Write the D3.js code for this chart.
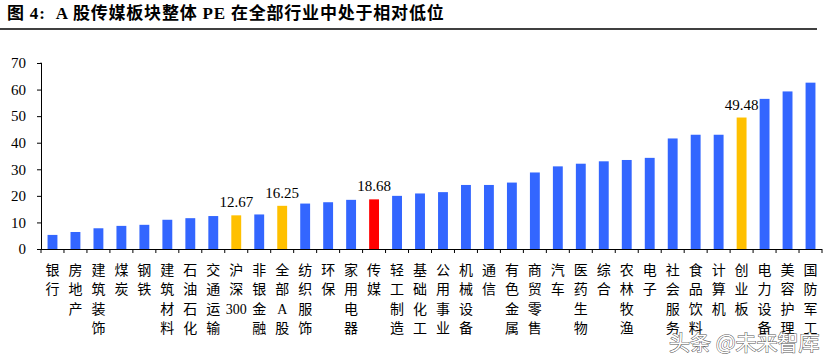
<!DOCTYPE html>
<html>
<head>
<meta charset="utf-8">
<script src="https://cdn.jsdelivr.net/npm/d3@7/dist/d3.min.js"></script>
<style>
  html, body { margin: 0; padding: 0; background: #fff; }
  svg { display: block; }
</style>
</head>
<body>
<svg id="chart" width="835" height="364"></svg>
<script>
const title = "图 4:  A 股传媒板块整体 PE 在全部行业中处于相对低位";
const categories = ["银行","房地产","建筑装饰","煤炭","钢铁","建筑材料","石油石化","交通运输","沪深300","非银金融","全部A股","纺织服饰","环保","家用电器","传媒","轻工制造","基础化工","公用事业","机械设备","通信","有色金属","商贸零售","汽车","医药生物","综合","农林牧渔","电子","社会服务","食品饮料","计算机","创业板","电力设备","美容护理","国防军工"];
const values = [5.3,6.4,7.8,8.7,9.1,11.0,11.6,12.4,12.67,13.0,16.25,17.1,17.6,18.5,18.68,20.0,20.9,21.4,24.1,24.1,25.0,28.8,31.1,32.1,33.0,33.5,34.3,41.6,43.0,43.0,49.48,56.5,59.3,62.6];
const highlightYellow = ["沪深300","全部A股","创业板"];
const highlightRed = ["传媒"];
const labeled = ["沪深300","全部A股","传媒","创业板"];
const yTicks = [0,10,20,30,40,50,60,70];
const watermark = "头条 @未来智库";

const svg = d3.select("#chart");
const serif = "'Liberation Serif','Times New Roman','Noto Sans CJK SC',serif";

// title
svg.append("text").attr("x", 7).attr("y", 19)
  .attr("font-family", serif).attr("font-weight", "bold").attr("font-size", 17)
  .attr("letter-spacing", 0.8)
  .attr("fill", "#000").attr("xml:space", "preserve").text(title);
svg.append("line").attr("x1", 0).attr("x2", 817).attr("y1", 29).attr("y2", 29)
  .attr("stroke", "#000").attr("stroke-width", 1.5);

const left = 41, right = 822, y0 = 249, yTop = 63;
const x = d3.scaleBand().domain(categories).range([left, right]).paddingInner(0.57).paddingOuter(0.285);
const y = d3.scaleLinear().domain([0, 70]).range([y0, yTop]);

// y axis
const yAxis = svg.append("g").attr("transform", `translate(${left},0)`)
  .call(d3.axisLeft(y).tickValues(yTicks).tickSize(4).tickPadding(11));
yAxis.select(".domain").attr("stroke", "#000").attr("d", `M-0.5,${yTop}H0.5V${y0}`);
yAxis.selectAll(".tick line").attr("stroke", "#000");
yAxis.selectAll(".tick text").attr("font-family", serif).attr("font-size", 15).attr("fill", "#000");

// bars
svg.append("g").selectAll("rect").data(categories).join("rect")
  .attr("x", d => x(d))
  .attr("y", (d, i) => y(values[i]))
  .attr("width", x.bandwidth())
  .attr("height", (d, i) => y0 - y(values[i]))
  .attr("fill", d => highlightRed.includes(d) ? "#FF0000" : highlightYellow.includes(d) ? "#FFC000" : "#3366FF");

// x axis
const xAxis = svg.append("g").attr("transform", `translate(0,${y0})`)
  .call(d3.axisBottom(x).tickSize(0).tickFormat(""));
xAxis.select(".domain").attr("stroke", "#000").attr("d", `M${left},0.5H${right}`);
const step = x.step();
const bounds = d3.range(categories.length + 1).map(i => left + i * step);
xAxis.selectAll("line.bt").data(bounds).join("line").attr("class", "bt")
  .attr("x1", d => d).attr("x2", d => d).attr("y1", 0).attr("y2", 4)
  .attr("stroke", "#000");

// x labels (vertical stacked)
function splitLabel(s) {
  const out = [];
  const re = /[0-9A-Za-z]+|./g;
  let m;
  while ((m = re.exec(s)) !== null) out.push(m[0]);
  return out;
}
const lg = svg.append("g");
categories.forEach(c => {
  const cx = x(c) + x.bandwidth() / 2;
  const t = lg.append("text").attr("text-anchor", "middle")
    .attr("font-family", serif).attr("font-size", 14).attr("fill", "#000");
  splitLabel(c).forEach((ch, j) => {
    t.append("tspan").attr("x", cx).attr("y", 275 + j * 19.3).text(ch);
  });
});

// value labels
svg.append("g").selectAll("text").data(labeled).join("text")
  .attr("x", d => x(d) + x.bandwidth() / 2)
  .attr("y", d => y(values[categories.indexOf(d)]) - 8)
  .attr("text-anchor", "middle")
  .attr("font-family", serif).attr("font-size", 15).attr("fill", "#000")
  .text(d => values[categories.indexOf(d)].toFixed(2));

// watermark
svg.append("text").attr("x", 669).attr("y", 350)
  .attr("font-family", "'Noto Sans CJK SC',sans-serif").attr("font-size", 21)
  .attr("fill", "#fff").attr("stroke", "#555").attr("stroke-width", 1)
  .attr("paint-order", "stroke").attr("xml:space", "preserve")
  .text(watermark);
</script>
</body>
</html>
